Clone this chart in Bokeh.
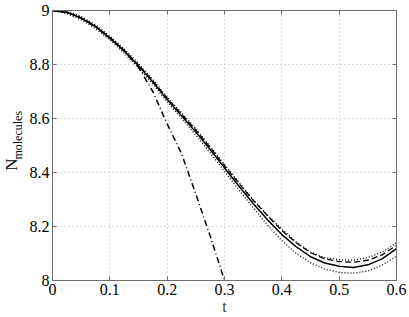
import math
from bokeh.plotting import figure
from bokeh.layouts import row
from bokeh.models import Range1d, LinearAxis, Label, FixedTicker
from bokeh.embed import file_html
from bokeh.resources import INLINE

t = [0, 0.025, 0.05, 0.075, 0.1, 0.125, 0.15, 0.175, 0.2, 0.225, 0.25, 0.275,
     0.3, 0.325, 0.35, 0.375, 0.4, 0.425, 0.45, 0.475, 0.5, 0.525, 0.55, 0.575, 0.6]
solid = [9.0, 8.993, 8.972, 8.94, 8.898, 8.85, 8.795, 8.735, 8.67, 8.61, 8.55, 8.485,
         8.417, 8.35, 8.285, 8.225, 8.17, 8.125, 8.088, 8.065, 8.053, 8.048, 8.058, 8.08, 8.118]
dashed = [9.0, 8.994, 8.973, 8.942, 8.9, 8.853, 8.798, 8.739, 8.675, 8.616, 8.557, 8.493,
          8.425, 8.36, 8.297, 8.24, 8.185, 8.14, 8.103, 8.08, 8.07, 8.068, 8.075, 8.095, 8.13]
upper = [9.0, 8.999, 8.978, 8.947, 8.905, 8.858, 8.803, 8.744, 8.68, 8.621, 8.562, 8.497,
         8.43, 8.364, 8.30, 8.243, 8.19, 8.143, 8.105, 8.085, 8.077, 8.075, 8.085, 8.105, 8.14]
lower = [9.0, 8.988, 8.966, 8.933, 8.891, 8.842, 8.787, 8.727, 8.662, 8.6, 8.539, 8.473,
         8.405, 8.336, 8.27, 8.205, 8.148, 8.1, 8.066, 8.042, 8.03, 8.027, 8.035, 8.057, 8.09]
t_dd = [0, 0.025, 0.05, 0.075, 0.1, 0.125, 0.15, 0.175, 0.2, 0.225, 0.25, 0.275, 0.3]
dashdot = [9.0, 8.993, 8.972, 8.94, 8.898, 8.85, 8.79, 8.70, 8.58, 8.47, 8.32, 8.165, 8.0]

x_ticks = [0, 0.1, 0.2, 0.3, 0.4, 0.5, 0.6]
y_ticks = [8, 8.2, 8.4, 8.6, 8.8, 9]

FONT = "Liberation Serif, serif"
AX = "#6e6e6e"
LW = 26  # width of the side panel that carries the y label

p = figure(width=409 - LW, height=317, output_backend="svg", toolbar_location=None,
           x_range=Range1d(0, 0.6), y_range=Range1d(8, 9),
           min_border_left=51 - LW, min_border_right=13, min_border_top=10, min_border_bottom=36)
p.background_fill_color = "white"
p.border_fill_color = "white"
p.outline_line_color = AX

for ax in (p.xaxis[0], p.yaxis[0]):
    ax.axis_line_color = AX
    ax.major_tick_line_color = AX
    ax.major_tick_in = 4
    ax.major_tick_out = 0
    ax.minor_tick_line_color = None
    ax.major_label_text_font = FONT
    ax.major_label_text_font_size = "16px"
    ax.major_label_text_color = "black"
    ax.axis_label_text_font = FONT
    ax.axis_label_text_font_style = "normal"
    ax.axis_label_text_font_size = "16px"
p.xaxis[0].ticker = FixedTicker(ticks=x_ticks)
p.yaxis[0].ticker = FixedTicker(ticks=y_ticks)
p.xaxis[0].major_label_overrides = {0: "0", 0.1: "0.1", 0.2: "0.2", 0.3: "0.3", 0.4: "0.4", 0.5: "0.5", 0.6: "0.6"}
p.yaxis[0].major_label_overrides = {8: "8", 8.2: "8.2", 8.4: "8.4", 8.6: "8.6", 8.8: "8.8", 9: "9"}
p.xaxis[0].major_label_standoff = 3
p.yaxis[0].major_label_standoff = 3
p.xaxis[0].axis_label = "t"
p.xaxis[0].axis_label_standoff = 0

for loc, tk in (("right", y_ticks), ("above", x_ticks)):
    a = LinearAxis(ticker=FixedTicker(ticks=tk), axis_line_color=AX,
                   major_tick_line_color=AX, major_tick_in=4, major_tick_out=0,
                   minor_tick_line_color=None, major_label_text_font_size="0px",
                   major_label_standoff=0)
    a.major_label_overrides = {v: "" for v in tk}
    p.add_layout(a, loc)

p.xgrid.ticker = FixedTicker(ticks=x_ticks)
p.ygrid.ticker = FixedTicker(ticks=y_ticks)
for g in (p.xgrid[0], p.ygrid[0]):
    g.grid_line_color = "#b4b4b4"
    g.grid_line_dash = "1 3"
    g.grid_line_width = 1

p.line(t, upper, line_color="black", line_width=1.3, line_dash="1 2")
p.line(t, lower, line_color="black", line_width=1.3, line_dash="1 2")
p.line(t, dashed, line_color="black", line_width=1.3, line_dash="6 3")
p.line(t, solid, line_color="black", line_width=1.5)
p.line(t_dd, dashdot, line_color="black", line_width=1.5, line_dash="6 3 1 3")

# side panel: pixel coordinates, y measured from the top
side = figure(width=LW, height=317, output_backend="svg", toolbar_location=None,
              x_range=Range1d(0, LW), y_range=Range1d(317, 0),
              min_border=0, x_axis_location=None, y_axis_location=None)
side.outline_line_color = None
side.xgrid.visible = False
side.ygrid.visible = False
side.background_fill_color = "white"
side.border_fill_color = "white"
side.add_layout(Label(x=11, y=188, text="N", angle=math.pi / 2,
                      text_font=FONT, text_font_size="17px", text_align="left",
                      text_baseline="alphabetic", text_color="black"))
side.add_layout(Label(x=17, y=175, text="molecules", angle=math.pi / 2,
                      text_font=FONT, text_font_size="12px", text_align="left",
                      text_baseline="alphabetic", text_color="black"))

layout = row(side, p, spacing=0)
open("out.html", "w").write(file_html(layout, INLINE))
